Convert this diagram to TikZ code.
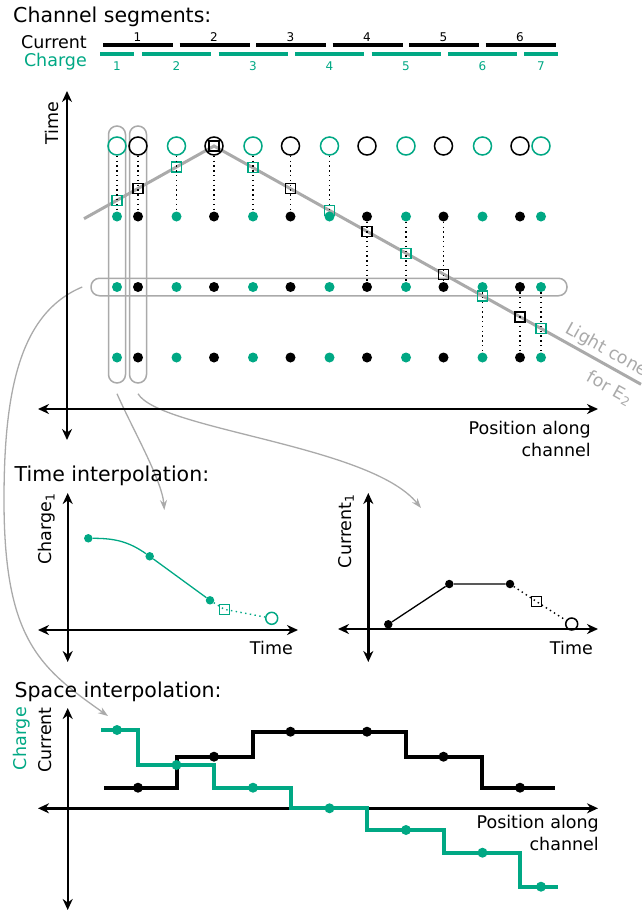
\documentclass[tikz,border=0pt]{standalone}
\usepackage{fontspec}
\setmainfont{DejaVu Sans}
\usetikzlibrary{arrows.meta}
\definecolor{qgreen}{RGB}{0,168,132}
\definecolor{lgray}{RGB}{170,170,170}

\begin{document}
\begin{tikzpicture}[x=1pt, y=1pt,
    ax/.style={line width=2.4pt, {Stealth[length=11pt,width=10pt]}-{Stealth[length=11pt,width=10pt]}},
    seg/.style={line width=4pt},
    qopen/.style={circle, draw=qgreen, line width=1.5pt, minimum size=18pt, inner sep=0pt},
    iopen/.style={qopen, draw=black},
    qdot/.style={circle, fill=qgreen, minimum size=10pt, inner sep=0pt},
    idot/.style={qdot, fill=black},
    qsq/.style={rectangle, draw=qgreen, line width=1.3pt, minimum size=10pt, inner sep=0pt},
    isq/.style={qsq, draw=black},
    dots/.style={line width=1.4pt, dash pattern=on 1.4pt off 3.4pt},
    capsule/.style={draw=lgray, line width=1.5pt, rectangle, rounded corners=8.5pt, inner sep=0pt},
    link/.style={lgray, line width=1.3pt, -{Stealth[length=10pt,width=7pt]}},
    lbl/.style={font=\fontsize{17.5}{22}\selectfont, inner sep=0pt},
    num/.style={font=\fontsize{12}{14}\selectfont, inner sep=0pt, anchor=base},
    head/.style={font=\fontsize{20.5}{24}\selectfont, inner sep=0pt, anchor=base west}]

  \useasboundingbox (0,0) rectangle (641,-913);

  %% channel segments
  \node[head] (seghead) at (13,-22.7) {Channel segments:};
  \node[lbl, anchor=base east] (curlab) at (87,-48.3) {Current};
  \node[lbl, anchor=base east, text=qgreen] (chglab) at (87,-66) {Charge};
  \foreach \k in {0,...,5} {
    \draw[seg] (103+76.5*\k,-45.3) -- (173+76.5*\k,-45.3);
    \pgfmathtruncatemacro\n{\k+1}
    \node[num] (inum\n) at (137.5+76.5*\k,-41.7) {\n};
  }
  \foreach \a/\b [count=\n] in {100/134,142/211,218.5/287.5,295/364,371.5/440.5,448/517,524/558} {
    \draw[seg, qgreen] (\a,-54) -- (\b,-54);
    \node[num, text=qgreen] (qnum\n) at ({(\a+\b)/2},-70) {\n};
  }

  %% space-time grid
  \node[capsule, minimum width=17pt, minimum height=257pt] (vcapA) at (117,-254.5) {};
  \node[capsule, minimum width=17pt, minimum height=257pt] (vcapB) at (138,-254.5) {};
  \node[capsule, minimum width=476pt, minimum height=17.5pt] (hcap) at (329,-287) {};

  \draw[lgray, line width=3pt] (84,-218.7) -- (214,-146) -- (641,-384.3); % light cone
  \node[lbl, text=lgray, rotate=-29.2, align=right, font=\fontsize{17.5}{32}\selectfont] (conelab) at (599,-364) {Light cone\\for E\textsubscript{2}};

  \foreach \x [count=\n] in {117,176.5,253,329.5,406,482.5,541} {
    \pgfmathsetmacro\ys{146+0.5585*abs(\x-214)}
    \node[qopen] (qo\n) at (\x,-146) {};
    \node[qdot] (qa\n) at (\x,-216.5) {};
    \node[qdot] (qb\n) at (\x,-287) {};
    \node[qdot] (qc\n) at (\x,-357.5) {};
    \node[qsq] (qs\n) at (\x,-\ys) {};
  }
  \foreach \x [count=\n] in {138,214,290.5,367,443.5,520} {
    \pgfmathsetmacro\ys{146+0.5585*abs(\x-214)}
    \node[iopen] (io\n) at (\x,-146) {};
    \node[idot] (ia\n) at (\x,-216.5) {};
    \node[idot] (ib\n) at (\x,-287) {};
    \node[idot] (ic\n) at (\x,-357.5) {};
    \node[isq] (is\n) at (\x,-\ys) {};
  }
  \foreach \a/\b in {qo1/qa1,qo2/qa2,qo3/qa3,qo4/qa4,qa5/qb5,qb6/qc6,qb7/qc7,
                     io1/ia1,io2/ia2,io3/ia3,ia4/ib4,ia5/ib5,ib6/ic6}
    \draw[dots] (\a) -- (\b);

  %% gray links
  \coordinate (tipA) at (108,-716);
  \coordinate (tipB) at (164.3,-510);
  \coordinate (tipC) at (421,-508);
  \draw[link] ([xshift=-8pt]hcap.west) .. controls (20,-313) and (4,-390) .. (4,-500)
              .. controls (4,-640) and (40,-668) .. (tipA);
  \draw[link] ([yshift=-10pt]vcapA.south) .. controls (132,-428) and (162,-480) .. (tipB);
  \draw[link] ([yshift=-10pt]vcapB.south) .. controls (160,-430) and (370,-445) .. (tipC);

  \coordinate (mB) at (67,-440);  \coordinate (mT) at (67,-91);
  \coordinate (mL) at (38,-409);  \coordinate (mR) at (598,-409);
  \draw[ax] (mB) -- (mT);
  \draw[ax] (mL) -- (mR);
  \node[lbl, rotate=90] (timelab) at (52,-123) {Time};
  \node[lbl, anchor=north east, align=right] (poslab) at (591,-421) {Position along\\channel};

  %% time interpolation
  \node[head] (tihead) at (14.5,-481.7) {Time interpolation:};
  \coordinate (aB) at (67.7,-662); \coordinate (aT) at (67.7,-493);
  \coordinate (aL) at (38,-630);   \coordinate (aR) at (298,-630);
  \draw[ax] (aB) -- (aT);
  \draw[ax] (aL) -- (aR);
  \node[lbl, rotate=90] (chg1lab) at (46.7,-529) {Charge\textsubscript{1}};
  \node[lbl, anchor=base east] (t1lab) at (293,-654) {Time};
  \node[qdot, minimum size=8.5pt] (ca) at (88.3,-538.3) {};
  \node[qdot, minimum size=8.5pt] (cb) at (149.7,-556.3) {};
  \node[qdot, minimum size=8.5pt] (cc) at (210,-600.3) {};
  \node[qsq] (cs) at (224.3,-609.3) {};
  \node[qopen, minimum size=12pt] (co) at (271.7,-618.3) {};
  \draw[qgreen, line width=1.3pt] (ca) to[out=0, in=145] (cb) -- (cc);
  \draw[dots, qgreen] (cc) -- (cs.center) -- (co);

  \coordinate (bB) at (368.3,-662); \coordinate (bT) at (368.3,-493);
  \coordinate (bL) at (338,-629);   \coordinate (bR) at (598,-629);
  \draw[ax] (bB) -- (bT);
  \draw[ax] (bL) -- (bR);
  \node[lbl, rotate=90] (cur1lab) at (346,-531) {Current\textsubscript{1}};
  \node[lbl, anchor=base east] (t2lab) at (593,-654) {Time};
  \node[idot, minimum size=8.5pt] (ja) at (388.3,-624.3) {};
  \node[idot, minimum size=8.5pt] (jb) at (449.3,-584) {};
  \node[idot, minimum size=8.5pt] (jc) at (510,-584) {};
  \node[isq] (js) at (536.7,-601.7) {};
  \node[iopen, minimum size=12pt] (jo) at (571.7,-624) {};
  \draw[line width=1.3pt] (ja) -- (jb) -- (jc);
  \draw[dots] (jc) -- (js.center) -- (jo);

  %% space interpolation
  \node[head] (sihead) at (14.5,-697) {Space interpolation:};
  \coordinate (sB) at (67.7,-910); \coordinate (sT) at (67.7,-708);
  \coordinate (sL) at (38,-808.3); \coordinate (sR) at (598,-808.3);
  \draw[ax] (sB) -- (sT);
  \draw[ax] (sL) -- (sR);
  \node[lbl, rotate=90, anchor=east, align=right, font=\fontsize{17.5}{25}\selectfont] (cclab) at (32.5,-707) {\textcolor{qgreen}{Charge}\\Current};
  \node[lbl, anchor=north east, align=right] (pos2lab) at (599,-815.3) {Position along\\channel};

  \draw[seg] (104,-787.7) -- (176.5,-787.7) -- (176.5,-756.7) -- (252.5,-756.7) -- (252.5,-731.7)
    -- (405.5,-731.7) -- (405.5,-756.7) -- (482,-756.7) -- (482,-787.7) -- (555,-787.7);
  \foreach \x/\y [count=\n] in {138/787.7,214/756.7,290.5/731.7,367/731.7,443.5/756.7,520/787.7}
    \node[idot] (sc\n) at (\x,-\y) {};
  \draw[seg, qgreen] (101,-730) -- (138,-730) -- (138,-765) -- (214,-765) -- (214,-787.7) -- (290.5,-787.7)
    -- (290.5,-808.3) -- (367,-808.3) -- (367,-830) -- (443.5,-830) -- (443.5,-852.7) -- (520,-852.7)
    -- (520,-886.7) -- (558,-886.7);
  \foreach \x/\y [count=\n] in {117/730,176.5/765,253/787.7,329.5/808.3,406/830,482.5/852.7,541/886.7}
    \node[qdot] (sq\n) at (\x,-\y) {};
\end{tikzpicture}
\end{document}
